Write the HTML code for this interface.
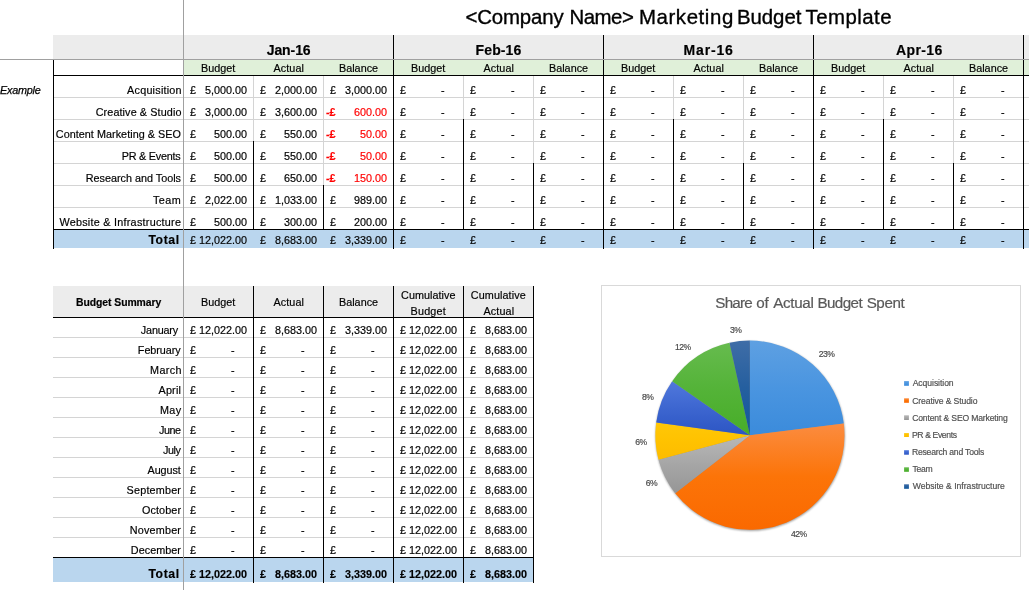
<!DOCTYPE html>
<html><head><meta charset="utf-8"><title>Marketing Budget Template</title>
<style>
html,body{margin:0;padding:0;background:#fff;}
body{width:1029px;height:590px;position:relative;overflow:hidden;font-family:"Liberation Sans",sans-serif;}
.r{position:absolute;}
.t{position:absolute;white-space:pre;line-height:1;-webkit-text-stroke:0.18px currentColor;}
#tx{position:absolute;left:0;top:0;width:1029px;height:590px;will-change:transform;}
</style></head><body>
<div class="r" style="left:53px;top:35px;width:976px;height:24px;background:#ececec"></div>
<div class="r" style="left:184px;top:60px;width:845px;height:15px;background:#e0f0d9"></div>
<div class="r" style="left:54px;top:230px;width:975px;height:18px;background:#bad6ee"></div>
<div class="r" style="left:54px;top:97px;width:975px;height:1px;background:#d4d4d4"></div>
<div class="r" style="left:54px;top:119px;width:975px;height:1px;background:#d4d4d4"></div>
<div class="r" style="left:54px;top:141px;width:975px;height:1px;background:#d4d4d4"></div>
<div class="r" style="left:54px;top:163px;width:975px;height:1px;background:#d4d4d4"></div>
<div class="r" style="left:54px;top:185px;width:975px;height:1px;background:#d4d4d4"></div>
<div class="r" style="left:54px;top:207px;width:975px;height:1px;background:#d4d4d4"></div>
<div class="r" style="left:253px;top:76px;width:1px;height:153px;background:#d4d4d4"></div>
<div class="r" style="left:323px;top:76px;width:1px;height:153px;background:#d4d4d4"></div>
<div class="r" style="left:463px;top:76px;width:1px;height:153px;background:#d4d4d4"></div>
<div class="r" style="left:533px;top:76px;width:1px;height:153px;background:#d4d4d4"></div>
<div class="r" style="left:673px;top:76px;width:1px;height:153px;background:#d4d4d4"></div>
<div class="r" style="left:743px;top:76px;width:1px;height:153px;background:#d4d4d4"></div>
<div class="r" style="left:883px;top:76px;width:1px;height:153px;background:#d4d4d4"></div>
<div class="r" style="left:953px;top:76px;width:1px;height:153px;background:#d4d4d4"></div>
<div class="r" style="left:253px;top:141px;width:1px;height:88px;background:#000"></div>
<div class="r" style="left:323px;top:185px;width:1px;height:44px;background:#000"></div>
<div class="r" style="left:463px;top:119px;width:1px;height:110px;background:#000"></div>
<div class="r" style="left:533px;top:163px;width:1px;height:66px;background:#000"></div>
<div class="r" style="left:673px;top:119px;width:1px;height:110px;background:#000"></div>
<div class="r" style="left:743px;top:163px;width:1px;height:66px;background:#000"></div>
<div class="r" style="left:883px;top:119px;width:1px;height:110px;background:#000"></div>
<div class="r" style="left:953px;top:163px;width:1px;height:66px;background:#000"></div>
<div class="r" style="left:53px;top:75px;width:976px;height:1px;background:#000"></div>
<div class="r" style="left:53px;top:229px;width:976px;height:1px;background:#000"></div>
<div class="r" style="left:53px;top:60px;width:1px;height:189px;background:#000"></div>
<div class="r" style="left:393px;top:35px;width:1px;height:214px;background:#000"></div>
<div class="r" style="left:603px;top:35px;width:1px;height:214px;background:#000"></div>
<div class="r" style="left:813px;top:35px;width:1px;height:214px;background:#000"></div>
<div class="r" style="left:1023px;top:35px;width:1px;height:214px;background:#000"></div>
<div class="r" style="left:53px;top:286px;width:481px;height:31px;background:#ececec"></div>
<div class="r" style="left:53px;top:558px;width:481px;height:24px;background:#bad6ee"></div>
<div class="r" style="left:53px;top:337px;width:481px;height:1px;background:#d4d4d4"></div>
<div class="r" style="left:53px;top:357px;width:481px;height:1px;background:#d4d4d4"></div>
<div class="r" style="left:53px;top:377px;width:481px;height:1px;background:#d4d4d4"></div>
<div class="r" style="left:53px;top:397px;width:481px;height:1px;background:#d4d4d4"></div>
<div class="r" style="left:53px;top:417px;width:481px;height:1px;background:#d4d4d4"></div>
<div class="r" style="left:53px;top:437px;width:481px;height:1px;background:#d4d4d4"></div>
<div class="r" style="left:53px;top:457px;width:481px;height:1px;background:#d4d4d4"></div>
<div class="r" style="left:53px;top:477px;width:481px;height:1px;background:#d4d4d4"></div>
<div class="r" style="left:53px;top:497px;width:481px;height:1px;background:#d4d4d4"></div>
<div class="r" style="left:53px;top:517px;width:481px;height:1px;background:#d4d4d4"></div>
<div class="r" style="left:53px;top:537px;width:481px;height:1px;background:#d4d4d4"></div>
<div class="r" style="left:53px;top:317px;width:481px;height:1px;background:#000"></div>
<div class="r" style="left:53px;top:557px;width:481px;height:1px;background:#000"></div>
<div class="r" style="left:253px;top:286px;width:1px;height:297px;background:#000"></div>
<div class="r" style="left:323px;top:286px;width:1px;height:297px;background:#000"></div>
<div class="r" style="left:393px;top:286px;width:1px;height:297px;background:#000"></div>
<div class="r" style="left:463px;top:286px;width:1px;height:297px;background:#000"></div>
<div class="r" style="left:533px;top:286px;width:1px;height:297px;background:#000"></div>
<div class="r" style="left:601px;top:285px;width:420px;height:1px;background:#d9d9d9"></div>
<div class="r" style="left:601px;top:556px;width:420px;height:1px;background:#d9d9d9"></div>
<div class="r" style="left:601px;top:285px;width:1px;height:272px;background:#d9d9d9"></div>
<div class="r" style="left:1020px;top:285px;width:1px;height:272px;background:#d9d9d9"></div>
<div class="r" style="left:0px;top:59px;width:1029px;height:1px;background:#a0a0a0"></div>
<div class="r" style="left:183px;top:0px;width:1px;height:590px;background:#a0a0a0"></div>
<svg class="r" style="left:0;top:0" width="1029" height="590" viewBox="0 0 1029 590"><defs><linearGradient id="g0" x1="0" y1="0" x2="0" y2="1"><stop offset="0" stop-color="#5ea0e2"/><stop offset="0.5" stop-color="#4a95e0"/><stop offset="1" stop-color="#3b8bdb"/></linearGradient><linearGradient id="g1" x1="0" y1="0" x2="0" y2="1"><stop offset="0" stop-color="#fb8c40"/><stop offset="0.5" stop-color="#fc7408"/><stop offset="1" stop-color="#fa6900"/></linearGradient><linearGradient id="g2" x1="0" y1="0" x2="0" y2="1"><stop offset="0" stop-color="#b8b8b8"/><stop offset="0.5" stop-color="#a6a6a6"/><stop offset="1" stop-color="#969696"/></linearGradient><linearGradient id="g3" x1="0" y1="0" x2="0" y2="1"><stop offset="0" stop-color="#ffc708"/><stop offset="0.5" stop-color="#ffc200"/><stop offset="1" stop-color="#fdbc00"/></linearGradient><linearGradient id="g4" x1="0" y1="0" x2="0" y2="1"><stop offset="0" stop-color="#5078dc"/><stop offset="0.5" stop-color="#3d66d0"/><stop offset="1" stop-color="#2c55c3"/></linearGradient><linearGradient id="g5" x1="0" y1="0" x2="0" y2="1"><stop offset="0" stop-color="#66bb4e"/><stop offset="0.5" stop-color="#54b338"/><stop offset="1" stop-color="#47ad28"/></linearGradient><linearGradient id="g6" x1="0" y1="0" x2="0" y2="1"><stop offset="0" stop-color="#3f6da7"/><stop offset="0.5" stop-color="#255f9f"/><stop offset="1" stop-color="#10579b"/></linearGradient><filter id="sh" x="-10%" y="-10%" width="120%" height="125%"><feGaussianBlur stdDeviation="0.9"/></filter></defs><circle cx="750.20" cy="436.20" r="94.60" fill="#000" opacity="0.42" filter="url(#sh)"/><path d="M749.90 435.20L749.90 340.60A94.60 94.60 0 0 1 843.78 423.54Z" fill="url(#g0)"/><path d="M749.90 435.20L843.78 423.54A94.60 94.60 0 0 1 675.17 493.21Z" fill="url(#g1)"/><path d="M749.90 435.20L675.17 493.21A94.60 94.60 0 0 1 658.53 459.71Z" fill="url(#g2)"/><path d="M749.90 435.20L658.53 459.71A94.60 94.60 0 0 1 656.17 422.39Z" fill="url(#g3)"/><path d="M749.90 435.20L656.17 422.39A94.60 94.60 0 0 1 672.16 381.30Z" fill="url(#g4)"/><path d="M749.90 435.20L672.16 381.30A94.60 94.60 0 0 1 729.52 342.82Z" fill="url(#g5)"/><path d="M749.90 435.20L729.52 342.82A94.60 94.60 0 0 1 749.90 340.60Z" fill="url(#g6)"/><rect x="904.1" y="381.1" width="4.8" height="4.7" fill="url(#g0)"/><rect x="904.1" y="398.3" width="4.8" height="4.5" fill="url(#g1)"/><rect x="904.1" y="415.3" width="4.8" height="4.7" fill="url(#g2)"/><rect x="904.1" y="433.1" width="4.8" height="3.9" fill="url(#g3)"/><rect x="904.1" y="450.2" width="4.8" height="4.5" fill="url(#g4)"/><rect x="904.1" y="467.3" width="4.8" height="4.5" fill="url(#g5)"/><rect x="904.1" y="484.3" width="4.8" height="4.5" fill="url(#g6)"/></svg>
<div id="tx">
<div class="t" style="font-size:20.4px;-webkit-text-stroke:0.35px #000;letter-spacing:-0.136px;top:7px;left:465.40px;">&lt;Company</div>
<div class="t" style="font-size:20.4px;-webkit-text-stroke:0.35px #000;letter-spacing:-0.475px;top:7px;left:569.45px;">Name&gt;</div>
<div class="t" style="font-size:20.4px;-webkit-text-stroke:0.35px #000;letter-spacing:0.600px;top:7px;left:638.95px;">Marketing</div>
<div class="t" style="font-size:20.4px;-webkit-text-stroke:0.35px #000;letter-spacing:-0.070px;top:7px;left:737.05px;">Budget</div>
<div class="t" style="font-size:20.4px;-webkit-text-stroke:0.35px #000;letter-spacing:0.464px;top:7px;left:805.60px;">Template</div>
<div class="t" style="font-size:10.8px;font-style:italic;-webkit-text-stroke:0.25px #000;letter-spacing:-0.217px;top:85px;left:0.05px;">Example</div>
<div class="t" style="font-size:14px;font-weight:700;letter-spacing:-0.100px;top:43px;left:266.75px;">Jan-16</div>
<div class="t" style="font-size:10.8px;letter-spacing:0.020px;top:63px;left:201.05px;">Budget</div>
<div class="t" style="font-size:10.8px;letter-spacing:0.110px;top:63px;left:273.40px;">Actual</div>
<div class="t" style="font-size:10.8px;letter-spacing:0.025px;top:63px;left:338.95px;">Balance</div>
<div class="t" style="font-size:14px;font-weight:700;letter-spacing:0.100px;top:43px;left:475.60px;">Feb-16</div>
<div class="t" style="font-size:10.8px;letter-spacing:0.020px;top:63px;left:411.05px;">Budget</div>
<div class="t" style="font-size:10.8px;letter-spacing:0.110px;top:63px;left:483.40px;">Actual</div>
<div class="t" style="font-size:10.8px;letter-spacing:0.025px;top:63px;left:548.95px;">Balance</div>
<div class="t" style="font-size:14px;font-weight:700;letter-spacing:0.840px;top:43px;left:683.57px;">Mar-16</div>
<div class="t" style="font-size:10.8px;letter-spacing:0.020px;top:63px;left:621.05px;">Budget</div>
<div class="t" style="font-size:10.8px;letter-spacing:0.110px;top:63px;left:693.40px;">Actual</div>
<div class="t" style="font-size:10.8px;letter-spacing:0.025px;top:63px;left:758.95px;">Balance</div>
<div class="t" style="font-size:14px;font-weight:700;letter-spacing:0.400px;top:43px;left:895.95px;">Apr-16</div>
<div class="t" style="font-size:10.8px;letter-spacing:0.020px;top:63px;left:831.05px;">Budget</div>
<div class="t" style="font-size:10.8px;letter-spacing:0.110px;top:63px;left:903.40px;">Actual</div>
<div class="t" style="font-size:10.8px;letter-spacing:0.025px;top:63px;left:968.95px;">Balance</div>
<div class="t" style="font-size:10.8px;letter-spacing:0.230px;top:85px;left:127.10px;">Acquisition</div>
<div class="t" style="font-size:10.8px;top:85px;left:190.00px;">£</div>
<div class="t" style="font-size:10.8px;top:85px;right:782.00px;">5,000.00</div>
<div class="t" style="font-size:10.8px;top:85px;left:260.00px;">£</div>
<div class="t" style="font-size:10.8px;top:85px;right:712.00px;">2,000.00</div>
<div class="t" style="font-size:10.8px;top:85px;left:330.00px;">£</div>
<div class="t" style="font-size:10.8px;top:85px;right:642.00px;">3,000.00</div>
<div class="t" style="font-size:10.8px;top:85px;left:400.00px;">£</div>
<div class="t" style="font-size:10.8px;top:85px;right:584.30px;">-</div>
<div class="t" style="font-size:10.8px;top:85px;left:470.00px;">£</div>
<div class="t" style="font-size:10.8px;top:85px;right:514.30px;">-</div>
<div class="t" style="font-size:10.8px;top:85px;left:540.00px;">£</div>
<div class="t" style="font-size:10.8px;top:85px;right:444.30px;">-</div>
<div class="t" style="font-size:10.8px;top:85px;left:610.00px;">£</div>
<div class="t" style="font-size:10.8px;top:85px;right:374.30px;">-</div>
<div class="t" style="font-size:10.8px;top:85px;left:680.00px;">£</div>
<div class="t" style="font-size:10.8px;top:85px;right:304.30px;">-</div>
<div class="t" style="font-size:10.8px;top:85px;left:750.00px;">£</div>
<div class="t" style="font-size:10.8px;top:85px;right:234.30px;">-</div>
<div class="t" style="font-size:10.8px;top:85px;left:820.00px;">£</div>
<div class="t" style="font-size:10.8px;top:85px;right:164.30px;">-</div>
<div class="t" style="font-size:10.8px;top:85px;left:890.00px;">£</div>
<div class="t" style="font-size:10.8px;top:85px;right:94.30px;">-</div>
<div class="t" style="font-size:10.8px;top:85px;left:960.00px;">£</div>
<div class="t" style="font-size:10.8px;top:85px;right:24.30px;">-</div>
<div class="t" style="font-size:10.8px;letter-spacing:0.106px;top:107px;left:95.70px;">Creative &amp; Studio</div>
<div class="t" style="font-size:10.8px;top:107px;left:190.00px;">£</div>
<div class="t" style="font-size:10.8px;top:107px;right:782.00px;">3,000.00</div>
<div class="t" style="font-size:10.8px;top:107px;left:260.00px;">£</div>
<div class="t" style="font-size:10.8px;top:107px;right:712.00px;">3,600.00</div>
<div class="t" style="font-size:10.8px;font-weight:700;color:#ff0000;top:107px;left:326.00px;">-£</div>
<div class="t" style="font-size:10.8px;color:#ff0000;top:107px;right:642.00px;">600.00</div>
<div class="t" style="font-size:10.8px;top:107px;left:400.00px;">£</div>
<div class="t" style="font-size:10.8px;top:107px;right:584.30px;">-</div>
<div class="t" style="font-size:10.8px;top:107px;left:470.00px;">£</div>
<div class="t" style="font-size:10.8px;top:107px;right:514.30px;">-</div>
<div class="t" style="font-size:10.8px;top:107px;left:540.00px;">£</div>
<div class="t" style="font-size:10.8px;top:107px;right:444.30px;">-</div>
<div class="t" style="font-size:10.8px;top:107px;left:610.00px;">£</div>
<div class="t" style="font-size:10.8px;top:107px;right:374.30px;">-</div>
<div class="t" style="font-size:10.8px;top:107px;left:680.00px;">£</div>
<div class="t" style="font-size:10.8px;top:107px;right:304.30px;">-</div>
<div class="t" style="font-size:10.8px;top:107px;left:750.00px;">£</div>
<div class="t" style="font-size:10.8px;top:107px;right:234.30px;">-</div>
<div class="t" style="font-size:10.8px;top:107px;left:820.00px;">£</div>
<div class="t" style="font-size:10.8px;top:107px;right:164.30px;">-</div>
<div class="t" style="font-size:10.8px;top:107px;left:890.00px;">£</div>
<div class="t" style="font-size:10.8px;top:107px;right:94.30px;">-</div>
<div class="t" style="font-size:10.8px;top:107px;left:960.00px;">£</div>
<div class="t" style="font-size:10.8px;top:107px;right:24.30px;">-</div>
<div class="t" style="font-size:10.8px;letter-spacing:0.043px;top:129px;left:55.80px;">Content Marketing &amp; SEO</div>
<div class="t" style="font-size:10.8px;top:129px;left:190.00px;">£</div>
<div class="t" style="font-size:10.8px;top:129px;right:782.00px;">500.00</div>
<div class="t" style="font-size:10.8px;top:129px;left:260.00px;">£</div>
<div class="t" style="font-size:10.8px;top:129px;right:712.00px;">550.00</div>
<div class="t" style="font-size:10.8px;font-weight:700;color:#ff0000;top:129px;left:326.00px;">-£</div>
<div class="t" style="font-size:10.8px;color:#ff0000;top:129px;right:642.00px;">50.00</div>
<div class="t" style="font-size:10.8px;top:129px;left:400.00px;">£</div>
<div class="t" style="font-size:10.8px;top:129px;right:584.30px;">-</div>
<div class="t" style="font-size:10.8px;top:129px;left:470.00px;">£</div>
<div class="t" style="font-size:10.8px;top:129px;right:514.30px;">-</div>
<div class="t" style="font-size:10.8px;top:129px;left:540.00px;">£</div>
<div class="t" style="font-size:10.8px;top:129px;right:444.30px;">-</div>
<div class="t" style="font-size:10.8px;top:129px;left:610.00px;">£</div>
<div class="t" style="font-size:10.8px;top:129px;right:374.30px;">-</div>
<div class="t" style="font-size:10.8px;top:129px;left:680.00px;">£</div>
<div class="t" style="font-size:10.8px;top:129px;right:304.30px;">-</div>
<div class="t" style="font-size:10.8px;top:129px;left:750.00px;">£</div>
<div class="t" style="font-size:10.8px;top:129px;right:234.30px;">-</div>
<div class="t" style="font-size:10.8px;top:129px;left:820.00px;">£</div>
<div class="t" style="font-size:10.8px;top:129px;right:164.30px;">-</div>
<div class="t" style="font-size:10.8px;top:129px;left:890.00px;">£</div>
<div class="t" style="font-size:10.8px;top:129px;right:94.30px;">-</div>
<div class="t" style="font-size:10.8px;top:129px;left:960.00px;">£</div>
<div class="t" style="font-size:10.8px;top:129px;right:24.30px;">-</div>
<div class="t" style="font-size:10.8px;letter-spacing:-0.240px;top:151px;left:121.85px;">PR &amp; Events</div>
<div class="t" style="font-size:10.8px;top:151px;left:190.00px;">£</div>
<div class="t" style="font-size:10.8px;top:151px;right:782.00px;">500.00</div>
<div class="t" style="font-size:10.8px;top:151px;left:260.00px;">£</div>
<div class="t" style="font-size:10.8px;top:151px;right:712.00px;">550.00</div>
<div class="t" style="font-size:10.8px;font-weight:700;color:#ff0000;top:151px;left:326.00px;">-£</div>
<div class="t" style="font-size:10.8px;color:#ff0000;top:151px;right:642.00px;">50.00</div>
<div class="t" style="font-size:10.8px;top:151px;left:400.00px;">£</div>
<div class="t" style="font-size:10.8px;top:151px;right:584.30px;">-</div>
<div class="t" style="font-size:10.8px;top:151px;left:470.00px;">£</div>
<div class="t" style="font-size:10.8px;top:151px;right:514.30px;">-</div>
<div class="t" style="font-size:10.8px;top:151px;left:540.00px;">£</div>
<div class="t" style="font-size:10.8px;top:151px;right:444.30px;">-</div>
<div class="t" style="font-size:10.8px;top:151px;left:610.00px;">£</div>
<div class="t" style="font-size:10.8px;top:151px;right:374.30px;">-</div>
<div class="t" style="font-size:10.8px;top:151px;left:680.00px;">£</div>
<div class="t" style="font-size:10.8px;top:151px;right:304.30px;">-</div>
<div class="t" style="font-size:10.8px;top:151px;left:750.00px;">£</div>
<div class="t" style="font-size:10.8px;top:151px;right:234.30px;">-</div>
<div class="t" style="font-size:10.8px;top:151px;left:820.00px;">£</div>
<div class="t" style="font-size:10.8px;top:151px;right:164.30px;">-</div>
<div class="t" style="font-size:10.8px;top:151px;left:890.00px;">£</div>
<div class="t" style="font-size:10.8px;top:151px;right:94.30px;">-</div>
<div class="t" style="font-size:10.8px;top:151px;left:960.00px;">£</div>
<div class="t" style="font-size:10.8px;top:151px;right:24.30px;">-</div>
<div class="t" style="font-size:10.8px;top:173px;left:85.75px;">Research and Tools</div>
<div class="t" style="font-size:10.8px;top:173px;left:190.00px;">£</div>
<div class="t" style="font-size:10.8px;top:173px;right:782.00px;">500.00</div>
<div class="t" style="font-size:10.8px;top:173px;left:260.00px;">£</div>
<div class="t" style="font-size:10.8px;top:173px;right:712.00px;">650.00</div>
<div class="t" style="font-size:10.8px;font-weight:700;color:#ff0000;top:173px;left:326.00px;">-£</div>
<div class="t" style="font-size:10.8px;color:#ff0000;top:173px;right:642.00px;">150.00</div>
<div class="t" style="font-size:10.8px;top:173px;left:400.00px;">£</div>
<div class="t" style="font-size:10.8px;top:173px;right:584.30px;">-</div>
<div class="t" style="font-size:10.8px;top:173px;left:470.00px;">£</div>
<div class="t" style="font-size:10.8px;top:173px;right:514.30px;">-</div>
<div class="t" style="font-size:10.8px;top:173px;left:540.00px;">£</div>
<div class="t" style="font-size:10.8px;top:173px;right:444.30px;">-</div>
<div class="t" style="font-size:10.8px;top:173px;left:610.00px;">£</div>
<div class="t" style="font-size:10.8px;top:173px;right:374.30px;">-</div>
<div class="t" style="font-size:10.8px;top:173px;left:680.00px;">£</div>
<div class="t" style="font-size:10.8px;top:173px;right:304.30px;">-</div>
<div class="t" style="font-size:10.8px;top:173px;left:750.00px;">£</div>
<div class="t" style="font-size:10.8px;top:173px;right:234.30px;">-</div>
<div class="t" style="font-size:10.8px;top:173px;left:820.00px;">£</div>
<div class="t" style="font-size:10.8px;top:173px;right:164.30px;">-</div>
<div class="t" style="font-size:10.8px;top:173px;left:890.00px;">£</div>
<div class="t" style="font-size:10.8px;top:173px;right:94.30px;">-</div>
<div class="t" style="font-size:10.8px;top:173px;left:960.00px;">£</div>
<div class="t" style="font-size:10.8px;top:173px;right:24.30px;">-</div>
<div class="t" style="font-size:10.8px;letter-spacing:0.500px;top:195px;left:152.95px;">Team</div>
<div class="t" style="font-size:10.8px;top:195px;left:190.00px;">£</div>
<div class="t" style="font-size:10.8px;top:195px;right:782.00px;">2,022.00</div>
<div class="t" style="font-size:10.8px;top:195px;left:260.00px;">£</div>
<div class="t" style="font-size:10.8px;top:195px;right:712.00px;">1,033.00</div>
<div class="t" style="font-size:10.8px;top:195px;left:330.00px;">£</div>
<div class="t" style="font-size:10.8px;top:195px;right:642.00px;">989.00</div>
<div class="t" style="font-size:10.8px;top:195px;left:400.00px;">£</div>
<div class="t" style="font-size:10.8px;top:195px;right:584.30px;">-</div>
<div class="t" style="font-size:10.8px;top:195px;left:470.00px;">£</div>
<div class="t" style="font-size:10.8px;top:195px;right:514.30px;">-</div>
<div class="t" style="font-size:10.8px;top:195px;left:540.00px;">£</div>
<div class="t" style="font-size:10.8px;top:195px;right:444.30px;">-</div>
<div class="t" style="font-size:10.8px;top:195px;left:610.00px;">£</div>
<div class="t" style="font-size:10.8px;top:195px;right:374.30px;">-</div>
<div class="t" style="font-size:10.8px;top:195px;left:680.00px;">£</div>
<div class="t" style="font-size:10.8px;top:195px;right:304.30px;">-</div>
<div class="t" style="font-size:10.8px;top:195px;left:750.00px;">£</div>
<div class="t" style="font-size:10.8px;top:195px;right:234.30px;">-</div>
<div class="t" style="font-size:10.8px;top:195px;left:820.00px;">£</div>
<div class="t" style="font-size:10.8px;top:195px;right:164.30px;">-</div>
<div class="t" style="font-size:10.8px;top:195px;left:890.00px;">£</div>
<div class="t" style="font-size:10.8px;top:195px;right:94.30px;">-</div>
<div class="t" style="font-size:10.8px;top:195px;left:960.00px;">£</div>
<div class="t" style="font-size:10.8px;top:195px;right:24.30px;">-</div>
<div class="t" style="font-size:10.8px;letter-spacing:0.259px;top:217px;left:59.40px;">Website &amp; Infrastructure</div>
<div class="t" style="font-size:10.8px;top:217px;left:190.00px;">£</div>
<div class="t" style="font-size:10.8px;top:217px;right:782.00px;">500.00</div>
<div class="t" style="font-size:10.8px;top:217px;left:260.00px;">£</div>
<div class="t" style="font-size:10.8px;top:217px;right:712.00px;">300.00</div>
<div class="t" style="font-size:10.8px;top:217px;left:330.00px;">£</div>
<div class="t" style="font-size:10.8px;top:217px;right:642.00px;">200.00</div>
<div class="t" style="font-size:10.8px;top:217px;left:400.00px;">£</div>
<div class="t" style="font-size:10.8px;top:217px;right:584.30px;">-</div>
<div class="t" style="font-size:10.8px;top:217px;left:470.00px;">£</div>
<div class="t" style="font-size:10.8px;top:217px;right:514.30px;">-</div>
<div class="t" style="font-size:10.8px;top:217px;left:540.00px;">£</div>
<div class="t" style="font-size:10.8px;top:217px;right:444.30px;">-</div>
<div class="t" style="font-size:10.8px;top:217px;left:610.00px;">£</div>
<div class="t" style="font-size:10.8px;top:217px;right:374.30px;">-</div>
<div class="t" style="font-size:10.8px;top:217px;left:680.00px;">£</div>
<div class="t" style="font-size:10.8px;top:217px;right:304.30px;">-</div>
<div class="t" style="font-size:10.8px;top:217px;left:750.00px;">£</div>
<div class="t" style="font-size:10.8px;top:217px;right:234.30px;">-</div>
<div class="t" style="font-size:10.8px;top:217px;left:820.00px;">£</div>
<div class="t" style="font-size:10.8px;top:217px;right:164.30px;">-</div>
<div class="t" style="font-size:10.8px;top:217px;left:890.00px;">£</div>
<div class="t" style="font-size:10.8px;top:217px;right:94.30px;">-</div>
<div class="t" style="font-size:10.8px;top:217px;left:960.00px;">£</div>
<div class="t" style="font-size:10.8px;top:217px;right:24.30px;">-</div>
<div class="t" style="font-size:12.2px;font-weight:700;letter-spacing:0.637px;top:234px;left:148.40px;">Total</div>
<div class="t" style="font-size:10.8px;top:235px;left:190.00px;">£</div>
<div class="t" style="font-size:10.8px;top:235px;right:782.00px;">12,022.00</div>
<div class="t" style="font-size:10.8px;top:235px;left:260.00px;">£</div>
<div class="t" style="font-size:10.8px;top:235px;right:712.00px;">8,683.00</div>
<div class="t" style="font-size:10.8px;top:235px;left:330.00px;">£</div>
<div class="t" style="font-size:10.8px;top:235px;right:642.00px;">3,339.00</div>
<div class="t" style="font-size:10.8px;top:235px;left:400.00px;">£</div>
<div class="t" style="font-size:10.8px;top:235px;right:584.30px;">-</div>
<div class="t" style="font-size:10.8px;top:235px;left:470.00px;">£</div>
<div class="t" style="font-size:10.8px;top:235px;right:514.30px;">-</div>
<div class="t" style="font-size:10.8px;top:235px;left:540.00px;">£</div>
<div class="t" style="font-size:10.8px;top:235px;right:444.30px;">-</div>
<div class="t" style="font-size:10.8px;top:235px;left:610.00px;">£</div>
<div class="t" style="font-size:10.8px;top:235px;right:374.30px;">-</div>
<div class="t" style="font-size:10.8px;top:235px;left:680.00px;">£</div>
<div class="t" style="font-size:10.8px;top:235px;right:304.30px;">-</div>
<div class="t" style="font-size:10.8px;top:235px;left:750.00px;">£</div>
<div class="t" style="font-size:10.8px;top:235px;right:234.30px;">-</div>
<div class="t" style="font-size:10.8px;top:235px;left:820.00px;">£</div>
<div class="t" style="font-size:10.8px;top:235px;right:164.30px;">-</div>
<div class="t" style="font-size:10.8px;top:235px;left:890.00px;">£</div>
<div class="t" style="font-size:10.8px;top:235px;right:94.30px;">-</div>
<div class="t" style="font-size:10.8px;top:235px;left:960.00px;">£</div>
<div class="t" style="font-size:10.8px;top:235px;right:24.30px;">-</div>
<div class="t" style="font-size:10.4px;font-weight:700;letter-spacing:-0.050px;top:298px;left:75.95px;">Budget Summary</div>
<div class="t" style="font-size:10.8px;letter-spacing:0.020px;top:297px;left:201.05px;">Budget</div>
<div class="t" style="font-size:10.8px;letter-spacing:0.110px;top:297px;left:273.40px;">Actual</div>
<div class="t" style="font-size:10.8px;letter-spacing:0.025px;top:297px;left:338.95px;">Balance</div>
<div class="t" style="font-size:10.8px;letter-spacing:0.044px;top:290px;left:401.10px;">Cumulative</div>
<div class="t" style="font-size:10.8px;letter-spacing:0.200px;top:306px;left:410.55px;">Budget</div>
<div class="t" style="font-size:10.8px;letter-spacing:0.100px;top:290px;left:470.80px;">Cumulative</div>
<div class="t" style="font-size:10.8px;letter-spacing:0.130px;top:306px;left:483.40px;">Actual</div>
<div class="t" style="font-size:10.8px;letter-spacing:-0.183px;top:325px;left:140.85px;">January</div>
<div class="t" style="font-size:10.8px;top:325px;left:190.00px;">£</div>
<div class="t" style="font-size:10.8px;top:325px;right:782.00px;">12,022.00</div>
<div class="t" style="font-size:10.8px;top:325px;left:260.00px;">£</div>
<div class="t" style="font-size:10.8px;top:325px;right:712.00px;">8,683.00</div>
<div class="t" style="font-size:10.8px;top:325px;left:330.00px;">£</div>
<div class="t" style="font-size:10.8px;top:325px;right:642.00px;">3,339.00</div>
<div class="t" style="font-size:10.8px;top:325px;left:400.00px;">£</div>
<div class="t" style="font-size:10.8px;top:325px;right:572.00px;">12,022.00</div>
<div class="t" style="font-size:10.8px;top:325px;left:470.00px;">£</div>
<div class="t" style="font-size:10.8px;top:325px;right:502.00px;">8,683.00</div>
<div class="t" style="font-size:10.8px;letter-spacing:-0.043px;top:345px;left:137.85px;">February</div>
<div class="t" style="font-size:10.8px;top:345px;left:190.00px;">£</div>
<div class="t" style="font-size:10.8px;top:345px;right:794.30px;">-</div>
<div class="t" style="font-size:10.8px;top:345px;left:260.00px;">£</div>
<div class="t" style="font-size:10.8px;top:345px;right:724.30px;">-</div>
<div class="t" style="font-size:10.8px;top:345px;left:330.00px;">£</div>
<div class="t" style="font-size:10.8px;top:345px;right:654.30px;">-</div>
<div class="t" style="font-size:10.8px;top:345px;left:400.00px;">£</div>
<div class="t" style="font-size:10.8px;top:345px;right:572.00px;">12,022.00</div>
<div class="t" style="font-size:10.8px;top:345px;left:470.00px;">£</div>
<div class="t" style="font-size:10.8px;top:345px;right:502.00px;">8,683.00</div>
<div class="t" style="font-size:10.8px;letter-spacing:0.375px;top:365px;left:150.05px;">March</div>
<div class="t" style="font-size:10.8px;top:365px;left:190.00px;">£</div>
<div class="t" style="font-size:10.8px;top:365px;right:794.30px;">-</div>
<div class="t" style="font-size:10.8px;top:365px;left:260.00px;">£</div>
<div class="t" style="font-size:10.8px;top:365px;right:724.30px;">-</div>
<div class="t" style="font-size:10.8px;top:365px;left:330.00px;">£</div>
<div class="t" style="font-size:10.8px;top:365px;right:654.30px;">-</div>
<div class="t" style="font-size:10.8px;top:365px;left:400.00px;">£</div>
<div class="t" style="font-size:10.8px;top:365px;right:572.00px;">12,022.00</div>
<div class="t" style="font-size:10.8px;top:365px;left:470.00px;">£</div>
<div class="t" style="font-size:10.8px;top:365px;right:502.00px;">8,683.00</div>
<div class="t" style="font-size:10.8px;letter-spacing:0.200px;top:385px;left:158.50px;">April</div>
<div class="t" style="font-size:10.8px;top:385px;left:190.00px;">£</div>
<div class="t" style="font-size:10.8px;top:385px;right:794.30px;">-</div>
<div class="t" style="font-size:10.8px;top:385px;left:260.00px;">£</div>
<div class="t" style="font-size:10.8px;top:385px;right:724.30px;">-</div>
<div class="t" style="font-size:10.8px;top:385px;left:330.00px;">£</div>
<div class="t" style="font-size:10.8px;top:385px;right:654.30px;">-</div>
<div class="t" style="font-size:10.8px;top:385px;left:400.00px;">£</div>
<div class="t" style="font-size:10.8px;top:385px;right:572.00px;">12,022.00</div>
<div class="t" style="font-size:10.8px;top:385px;left:470.00px;">£</div>
<div class="t" style="font-size:10.8px;top:385px;right:502.00px;">8,683.00</div>
<div class="t" style="font-size:10.8px;letter-spacing:0.400px;top:405px;left:159.95px;">May</div>
<div class="t" style="font-size:10.8px;top:405px;left:190.00px;">£</div>
<div class="t" style="font-size:10.8px;top:405px;right:794.30px;">-</div>
<div class="t" style="font-size:10.8px;top:405px;left:260.00px;">£</div>
<div class="t" style="font-size:10.8px;top:405px;right:724.30px;">-</div>
<div class="t" style="font-size:10.8px;top:405px;left:330.00px;">£</div>
<div class="t" style="font-size:10.8px;top:405px;right:654.30px;">-</div>
<div class="t" style="font-size:10.8px;top:405px;left:400.00px;">£</div>
<div class="t" style="font-size:10.8px;top:405px;right:572.00px;">12,022.00</div>
<div class="t" style="font-size:10.8px;top:405px;left:470.00px;">£</div>
<div class="t" style="font-size:10.8px;top:405px;right:502.00px;">8,683.00</div>
<div class="t" style="font-size:10.8px;letter-spacing:-0.517px;top:425px;left:159.05px;">June</div>
<div class="t" style="font-size:10.8px;top:425px;left:190.00px;">£</div>
<div class="t" style="font-size:10.8px;top:425px;right:794.30px;">-</div>
<div class="t" style="font-size:10.8px;top:425px;left:260.00px;">£</div>
<div class="t" style="font-size:10.8px;top:425px;right:724.30px;">-</div>
<div class="t" style="font-size:10.8px;top:425px;left:330.00px;">£</div>
<div class="t" style="font-size:10.8px;top:425px;right:654.30px;">-</div>
<div class="t" style="font-size:10.8px;top:425px;left:400.00px;">£</div>
<div class="t" style="font-size:10.8px;top:425px;right:572.00px;">12,022.00</div>
<div class="t" style="font-size:10.8px;top:425px;left:470.00px;">£</div>
<div class="t" style="font-size:10.8px;top:425px;right:502.00px;">8,683.00</div>
<div class="t" style="font-size:10.8px;letter-spacing:-0.400px;top:445px;left:162.95px;">July</div>
<div class="t" style="font-size:10.8px;top:445px;left:190.00px;">£</div>
<div class="t" style="font-size:10.8px;top:445px;right:794.30px;">-</div>
<div class="t" style="font-size:10.8px;top:445px;left:260.00px;">£</div>
<div class="t" style="font-size:10.8px;top:445px;right:724.30px;">-</div>
<div class="t" style="font-size:10.8px;top:445px;left:330.00px;">£</div>
<div class="t" style="font-size:10.8px;top:445px;right:654.30px;">-</div>
<div class="t" style="font-size:10.8px;top:445px;left:400.00px;">£</div>
<div class="t" style="font-size:10.8px;top:445px;right:572.00px;">12,022.00</div>
<div class="t" style="font-size:10.8px;top:445px;left:470.00px;">£</div>
<div class="t" style="font-size:10.8px;top:445px;right:502.00px;">8,683.00</div>
<div class="t" style="font-size:10.8px;letter-spacing:-0.060px;top:465px;left:147.50px;">August</div>
<div class="t" style="font-size:10.8px;top:465px;left:190.00px;">£</div>
<div class="t" style="font-size:10.8px;top:465px;right:794.30px;">-</div>
<div class="t" style="font-size:10.8px;top:465px;left:260.00px;">£</div>
<div class="t" style="font-size:10.8px;top:465px;right:724.30px;">-</div>
<div class="t" style="font-size:10.8px;top:465px;left:330.00px;">£</div>
<div class="t" style="font-size:10.8px;top:465px;right:654.30px;">-</div>
<div class="t" style="font-size:10.8px;top:465px;left:400.00px;">£</div>
<div class="t" style="font-size:10.8px;top:465px;right:572.00px;">12,022.00</div>
<div class="t" style="font-size:10.8px;top:465px;left:470.00px;">£</div>
<div class="t" style="font-size:10.8px;top:465px;right:502.00px;">8,683.00</div>
<div class="t" style="font-size:10.8px;letter-spacing:0.194px;top:485px;left:126.60px;">September</div>
<div class="t" style="font-size:10.8px;top:485px;left:190.00px;">£</div>
<div class="t" style="font-size:10.8px;top:485px;right:794.30px;">-</div>
<div class="t" style="font-size:10.8px;top:485px;left:260.00px;">£</div>
<div class="t" style="font-size:10.8px;top:485px;right:724.30px;">-</div>
<div class="t" style="font-size:10.8px;top:485px;left:330.00px;">£</div>
<div class="t" style="font-size:10.8px;top:485px;right:654.30px;">-</div>
<div class="t" style="font-size:10.8px;top:485px;left:400.00px;">£</div>
<div class="t" style="font-size:10.8px;top:485px;right:572.00px;">12,022.00</div>
<div class="t" style="font-size:10.8px;top:485px;left:470.00px;">£</div>
<div class="t" style="font-size:10.8px;top:485px;right:502.00px;">8,683.00</div>
<div class="t" style="font-size:10.8px;letter-spacing:0.125px;top:505px;left:141.90px;">October</div>
<div class="t" style="font-size:10.8px;top:505px;left:190.00px;">£</div>
<div class="t" style="font-size:10.8px;top:505px;right:794.30px;">-</div>
<div class="t" style="font-size:10.8px;top:505px;left:260.00px;">£</div>
<div class="t" style="font-size:10.8px;top:505px;right:724.30px;">-</div>
<div class="t" style="font-size:10.8px;top:505px;left:330.00px;">£</div>
<div class="t" style="font-size:10.8px;top:505px;right:654.30px;">-</div>
<div class="t" style="font-size:10.8px;top:505px;left:400.00px;">£</div>
<div class="t" style="font-size:10.8px;top:505px;right:572.00px;">12,022.00</div>
<div class="t" style="font-size:10.8px;top:505px;left:470.00px;">£</div>
<div class="t" style="font-size:10.8px;top:505px;right:502.00px;">8,683.00</div>
<div class="t" style="font-size:10.8px;letter-spacing:0.200px;top:525px;left:129.75px;">November</div>
<div class="t" style="font-size:10.8px;top:525px;left:190.00px;">£</div>
<div class="t" style="font-size:10.8px;top:525px;right:794.30px;">-</div>
<div class="t" style="font-size:10.8px;top:525px;left:260.00px;">£</div>
<div class="t" style="font-size:10.8px;top:525px;right:724.30px;">-</div>
<div class="t" style="font-size:10.8px;top:525px;left:330.00px;">£</div>
<div class="t" style="font-size:10.8px;top:525px;right:654.30px;">-</div>
<div class="t" style="font-size:10.8px;top:525px;left:400.00px;">£</div>
<div class="t" style="font-size:10.8px;top:525px;right:572.00px;">12,022.00</div>
<div class="t" style="font-size:10.8px;top:525px;left:470.00px;">£</div>
<div class="t" style="font-size:10.8px;top:525px;right:502.00px;">8,683.00</div>
<div class="t" style="font-size:10.8px;letter-spacing:0.043px;top:545px;left:130.85px;">December</div>
<div class="t" style="font-size:10.8px;top:545px;left:190.00px;">£</div>
<div class="t" style="font-size:10.8px;top:545px;right:794.30px;">-</div>
<div class="t" style="font-size:10.8px;top:545px;left:260.00px;">£</div>
<div class="t" style="font-size:10.8px;top:545px;right:724.30px;">-</div>
<div class="t" style="font-size:10.8px;top:545px;left:330.00px;">£</div>
<div class="t" style="font-size:10.8px;top:545px;right:654.30px;">-</div>
<div class="t" style="font-size:10.8px;top:545px;left:400.00px;">£</div>
<div class="t" style="font-size:10.8px;top:545px;right:572.00px;">12,022.00</div>
<div class="t" style="font-size:10.8px;top:545px;left:470.00px;">£</div>
<div class="t" style="font-size:10.8px;top:545px;right:502.00px;">8,683.00</div>
<div class="t" style="font-size:12.2px;font-weight:700;letter-spacing:0.637px;top:568px;left:148.40px;">Total</div>
<div class="t" style="font-size:10.8px;font-weight:700;top:569px;left:190.00px;">£</div>
<div class="t" style="font-size:10.8px;font-weight:700;top:569px;right:782.00px;">12,022.00</div>
<div class="t" style="font-size:10.8px;font-weight:700;top:569px;left:260.00px;">£</div>
<div class="t" style="font-size:10.8px;font-weight:700;top:569px;right:712.00px;">8,683.00</div>
<div class="t" style="font-size:10.8px;font-weight:700;top:569px;left:330.00px;">£</div>
<div class="t" style="font-size:10.8px;font-weight:700;top:569px;right:642.00px;">3,339.00</div>
<div class="t" style="font-size:10.8px;font-weight:700;top:569px;left:400.00px;">£</div>
<div class="t" style="font-size:10.8px;font-weight:700;top:569px;right:572.00px;">12,022.00</div>
<div class="t" style="font-size:10.8px;font-weight:700;top:569px;left:470.00px;">£</div>
<div class="t" style="font-size:10.8px;font-weight:700;top:569px;right:502.00px;">8,683.00</div>
<div class="t" style="font-size:15.2px;color:#595959;-webkit-text-stroke:0.2px #595959;letter-spacing:-0.750px;top:295px;left:715.25px;">Share</div>
<div class="t" style="font-size:15.2px;color:#595959;-webkit-text-stroke:0.2px #595959;letter-spacing:-0.150px;top:295px;left:756.20px;">of</div>
<div class="t" style="font-size:15.2px;color:#595959;-webkit-text-stroke:0.2px #595959;letter-spacing:-0.330px;top:295px;left:773.30px;">Actual</div>
<div class="t" style="font-size:15.2px;color:#595959;-webkit-text-stroke:0.2px #595959;letter-spacing:-0.590px;top:295px;left:817.45px;">Budget</div>
<div class="t" style="font-size:15.2px;color:#595959;-webkit-text-stroke:0.2px #595959;letter-spacing:-0.400px;top:295px;left:866.65px;">Spent</div>
<div class="t" style="font-size:8.6px;color:#4a4a4a;letter-spacing:-0.516px;top:326px;left:729.91px;">3%</div>
<div class="t" style="font-size:8.6px;color:#4a4a4a;letter-spacing:-0.516px;top:343px;left:674.94px;">12%</div>
<div class="t" style="font-size:8.6px;color:#4a4a4a;letter-spacing:-0.516px;top:350px;left:818.67px;">23%</div>
<div class="t" style="font-size:8.6px;color:#4a4a4a;letter-spacing:-0.516px;top:393px;left:641.96px;">8%</div>
<div class="t" style="font-size:8.6px;color:#4a4a4a;letter-spacing:-0.516px;top:438px;left:635.13px;">6%</div>
<div class="t" style="font-size:8.6px;color:#4a4a4a;letter-spacing:-0.516px;top:479px;left:645.63px;">6%</div>
<div class="t" style="font-size:8.6px;color:#4a4a4a;letter-spacing:-0.516px;top:530px;left:790.89px;">42%</div>
<div class="t" style="font-size:8.6px;color:#505050;letter-spacing:-0.060px;top:379px;left:912.70px;">Acquisition</div>
<div class="t" style="font-size:8.6px;color:#505050;letter-spacing:-0.100px;top:397px;left:912.20px;">Creative &amp; Studio</div>
<div class="t" style="font-size:8.6px;color:#505050;letter-spacing:-0.150px;top:414px;left:912.20px;">Content &amp; SEO Marketing</div>
<div class="t" style="font-size:8.6px;color:#505050;letter-spacing:-0.365px;top:431px;left:911.95px;">PR &amp; Events</div>
<div class="t" style="font-size:8.6px;color:#505050;letter-spacing:-0.203px;top:448px;left:911.95px;">Research and Tools</div>
<div class="t" style="font-size:8.6px;color:#505050;letter-spacing:-0.283px;top:465px;left:912.45px;">Team</div>
<div class="t" style="font-size:8.6px;color:#505050;letter-spacing:0.007px;top:482px;left:912.70px;">Website &amp; Infrastructure</div>
</div>
</body></html>
